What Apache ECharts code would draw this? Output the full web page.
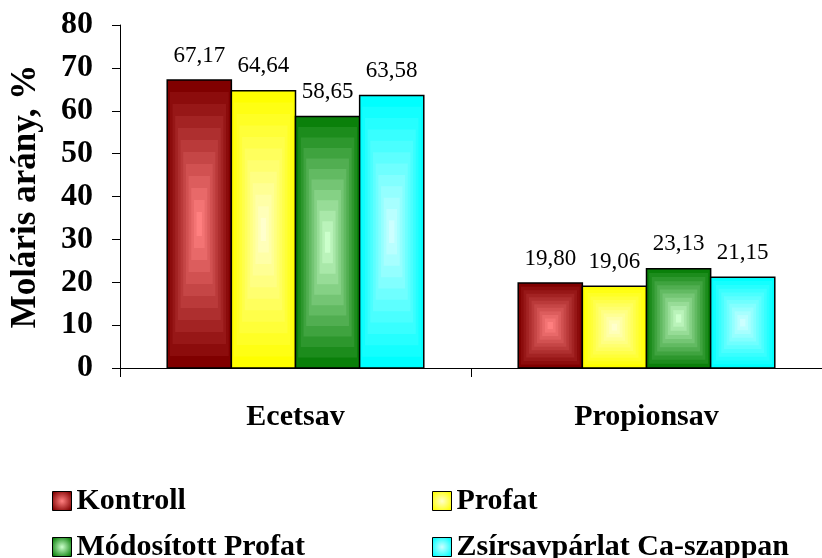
<!DOCTYPE html>
<html>
<head>
<meta charset="utf-8">
<script src="https://cdn.jsdelivr.net/npm/echarts@6/dist/echarts.min.js"></script>
<style>
  html, body { margin: 0; padding: 0; background: #fff; }
  #chart { width: 822px; height: 558px; }
</style>
</head>
<body>
<div id="chart"></div>
<script>
// Categories and values (molar ratio, %)
const categories = ['Ecetsav', 'Propionsav'];
const seriesNames = ['Kontroll', 'Profat', 'Módosított Profat', 'Zsírsavpárlat Ca-szappan'];
const kontroll = [67.17, 19.80];
const profat = [64.64, 19.06];
const modositottProfat = [58.65, 23.13];
const zsirsav = [63.58, 21.15];
const yTicks = { min: 0, max: 80, interval: 10 };

const seriesValues = [kontroll, profat, modositottProfat, zsirsav];

// Edge / centre colours of the rectangular "from centre" fill
const edgeColors = ['#800000', '#ffff00', '#0a800a', '#00ffff'];
const centerColors = ['#ff8080', '#ffffcc', '#ccffcc', '#ccffff'];

const SERIF = '"Liberation Serif", "Times New Roman", serif';
const GROUP_RATIO = 0.731;   // share of the category band used by the bar group
const BANDS = 12;            // number of nested rectangles in the fill

function hexToRgb(h) {
  const n = parseInt(h.slice(1), 16);
  return [(n >> 16) & 255, (n >> 8) & 255, n & 255];
}
function mix(a, b, t) {
  const A = hexToRgb(a), B = hexToRgb(b);
  return 'rgb(' + A.map((v, i) => Math.round(v + (B[i] - v) * t)).join(',') + ')';
}
function fmt(v) {
  return v.toFixed(2).replace('.', ',');
}

function makeRenderItem(si) {
  return function (params, api) {
    const cat = api.value(0);
    const val = api.value(1);
    const base = api.coord([cat, 0]);
    const top = api.coord([cat, val]);
    const bandW = api.size([1, 0])[0];
    const groupW = bandW * GROUP_RATIO;
    const barW = groupW / seriesNames.length;
    const x0 = base[0] - groupW / 2 + si * barW;
    const y0 = top[1];
    const h = base[1] - top[1];
    const children = [];
    for (let k = 0; k < BANDS; k++) {
      const t = k / BANDS;
      const dx = t * barW / 2, dy = t * h / 2;
      children.push({
        type: 'rect',
        shape: { x: x0 + dx, y: y0 + dy, width: barW - 2 * dx, height: h - 2 * dy },
        style: { fill: mix(edgeColors[si], centerColors[si], k / (BANDS - 1)) },
        silent: true
      });
    }
    children.push({
      type: 'rect',
      shape: { x: x0, y: y0, width: barW, height: h },
      style: { fill: null, stroke: '#000', lineWidth: 1.5 }
    });
    children.push({
      type: 'text',
      style: {
        text: fmt(val),
        x: x0 + barW / 2,
        y: y0 - 13,
        align: 'center',
        verticalAlign: 'bottom',
        font: '23px ' + SERIF,
        fill: '#000'
      }
    });
    return { type: 'group', children: children };
  };
}

const legendPos = [
  { left: 47, top: 481 },
  { left: 427, top: 481 },
  { left: 47, top: 527 },
  { left: 427, top: 527 }
];

const chart = echarts.init(document.getElementById('chart'), null, { renderer: 'canvas' });

chart.setOption({
  backgroundColor: '#ffffff',
  animation: false,
  grid: { left: 117, top: 25, width: 714, height: 343, containLabel: false },
  legend: seriesNames.map((name, i) => ({
    left: legendPos[i].left,
    top: legendPos[i].top,
    icon: 'rect',
    itemWidth: 19,
    itemHeight: 19,
    selectedMode: false,
    textStyle: {
      fontFamily: SERIF, fontWeight: 'bold', fontSize: 30, color: '#000'
    },
    data: [{
      name: name,
      itemStyle: {
        color: new echarts.graphic.RadialGradient(0.5, 0.5, 0.6, [
          { offset: 0, color: centerColors[i] },
          { offset: 1, color: edgeColors[i] }
        ]),
        borderColor: '#000',
        borderWidth: 1
      }
    }]
  })),
  xAxis: {
    type: 'category',
    data: categories,
    axisLine: { lineStyle: { color: '#000', width: 1 } },
    axisTick: { show: true, length: 9, lineStyle: { color: '#000' } },
    axisLabel: {
      margin: 34,
      color: '#000',
      fontFamily: SERIF,
      fontWeight: 'bold',
      fontSize: 30
    },
    splitLine: { show: false }
  },
  yAxis: {
    type: 'value',
    min: yTicks.min,
    max: yTicks.max,
    interval: yTicks.interval,
    name: 'Moláris arány, %',
    nameLocation: 'middle',
    nameGap: 77,
    nameRotate: 90,
    nameTextStyle: { fontFamily: SERIF, fontWeight: 'bold', fontSize: 35, color: '#000' },
    axisLine: { show: true, lineStyle: { color: '#000', width: 1 } },
    axisTick: { show: true, length: 8, lineStyle: { color: '#000' } },
    axisLabel: {
      margin: 27,
      color: '#000',
      fontFamily: SERIF,
      fontWeight: 'bold',
      fontSize: 32
    },
    splitLine: { show: false }
  },
  series: seriesNames.map((name, si) => ({
    type: 'custom',
    name: name,
    itemStyle: { color: edgeColors[si] },
    renderItem: makeRenderItem(si),
    encode: { x: 0, y: 1 },
    data: categories.map((c, ci) => [ci, seriesValues[si][ci]])
  }))
});
</script>
</body>
</html>
